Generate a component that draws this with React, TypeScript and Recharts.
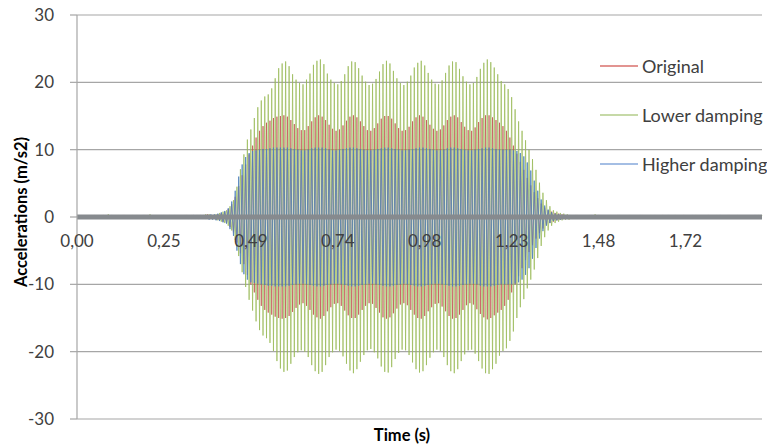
import React from "react";
import {
  LineChart,
  Line,
  XAxis,
  YAxis,
  CartesianGrid,
  ReferenceLine,
} from "recharts";

// sample-by-sample accelerations (m/s2), one sample every ~0.0049 s
const ORIGINAL = [
  // 0-77 quiet
  -0.1, 0.1, -0.1, 0.2, 0.0, 0.1, -0.1, 0.2, -0.1, 0.1,
  -0.2, 0.2, -0.1, 0.1, 0.0, 0.3, -0.1, 0.1, -0.1, 0.2,
  -0.1, 0.1, -0.2, 0.2, -0.1, 0.1, 0.0, 0.3, -0.1, 0.1,
  -0.1, 0.2, -0.1, 0.1, -0.2, 0.2, 0.0, 0.1, -0.1, 0.3,
  -0.1, 0.1, -0.1, 0.2, -0.1, 0.1, -0.2, 0.2, 0.0, 0.1,
  -0.1, 0.2, -0.1, 0.3, -0.1, 0.1, -0.2, 0.2, -0.1, 0.2,
  -0.2, 0.2, -0.2, 0.3, -0.2, 0.2, -0.3, 0.3, -0.2, 0.3,
  -0.3, 0.3, -0.2, 0.3, -0.3, 0.4, -0.3, 0.3,
  // 78-285 excitation
  -0.3, 0.3, -0.4, 0.4, -0.5, 0.6, -0.7, 0.8, -0.9, 1.2,
  -1.5, 1.9, -2.3, 3.0, -3.8, 4.6, -5.4, 6.2, -7.0, 7.8,
  -8.6, 9.3, -10.0, 10.6, -11.2, 11.8, -12.3, 12.8, -13.2, 13.5,
  -13.8, 14.0, -14.2, 14.3, -14.5, 14.7, -14.8, 14.9, -15.0, 15.0,
  -15.1, 15.1, -15.0, 14.9, -14.7, 14.4, -14.1, 13.8, -13.5, 13.2,
  -13.0, 12.9, -12.8, 12.9, -13.2, 13.5, -13.8, 14.2, -14.5, 14.8,
  -14.9, 15.1, -15.1, 14.9, -14.7, 14.4, -14.0, 13.7, -13.4, 13.1,
  -12.9, 12.8, -12.8, 13.0, -13.2, 13.6, -13.9, 14.3, -14.6, 14.9,
  -15.0, 15.1, -15.0, 14.8, -14.5, 14.2, -13.8, 13.5, -13.2, 12.9,
  -12.8, 12.8, -12.9, 13.2, -13.5, 13.9, -14.2, 14.6, -14.9, 15.0,
  -15.1, 15.0, -14.9, 14.6, -14.3, 13.9, -13.6, 13.2, -13.0, 12.8,
  -12.8, 12.9, -13.1, 13.4, -13.8, 14.2, -14.5, 14.8, -15.0, 15.1,
  -15.1, 14.9, -14.7, 14.4, -14.0, 13.7, -13.4, 13.1, -12.9, 12.8,
  -12.8, 13.0, -13.3, 13.6, -14.0, 14.4, -14.7, 14.9, -15.1, 15.1,
  -15.0, 14.8, -14.5, 14.1, -13.8, 13.4, -13.1, 12.9, -12.8, 12.8,
  -13.0, 13.3, -13.7, 14.1, -14.4, 14.7, -14.9, 15.1, -15.2, 15.1,
  -15.0, 14.8, -14.6, 14.4, -14.2, 14.0, -13.8, 13.5, -13.2, 12.8,
  -12.3, 11.8, -11.2, 10.6, -10.0, 9.4, -8.8, 8.2, -7.6, 7.0,
  -6.4, 5.8, -5.2, 4.7, -4.2, 3.7, -3.2, 2.8, -2.4, 2.0,
  -1.7, 1.4, -1.2, 1.0, -0.9, 0.8, -0.7, 0.6, -0.5, 0.5,
  -0.4, 0.4, -0.3, 0.3, -0.3, 0.3, -0.2, 0.2,
  // 286-394 quiet
  -0.2, 0.3, -0.1, 0.2, -0.2, 0.1, -0.1, 0.2, -0.1, 0.3,
  -0.2, 0.1, -0.1, 0.2, 0.0, 0.1, -0.2, 0.2, -0.1, 0.1,
  -0.1, 0.2, 0.0, 0.1, -0.1, 0.3, -0.1, 0.1, -0.2, 0.1,
  0.0, 0.2, -0.1, 0.1, -0.1, 0.2, -0.2, 0.1, 0.0, 0.3,
  -0.1, 0.1, -0.1, 0.2, -0.1, 0.1, -0.2, 0.2, 0.0, 0.1,
  -0.1, 0.3, -0.1, 0.1, -0.1, 0.2, 0.0, 0.1, -0.2, 0.2,
  -0.1, 0.1, -0.1, 0.3, -0.1, 0.1, -0.1, 0.2, -0.2, 0.1,
  0.0, 0.2, -0.1, 0.1, -0.1, 0.2, -0.1, 0.3, -0.1, 0.1,
  -0.2, 0.2, 0.0, 0.1, -0.1, 0.2, -0.1, 0.1, -0.1, 0.3,
  -0.1, 0.1, -0.2, 0.2, -0.1, 0.1, 0.0, 0.2, -0.1, 0.1,
  -0.1, 0.2, -0.1, 0.1, -0.2, 0.2, 0.0, 0.1, -0.1,
];

const LOWER_DAMPING = [
  0.1, -0.1, 0.2, -0.1, 0.1, 0.0, 0.2, -0.2, 0.1, -0.1,
  0.3, -0.1, 0.1, -0.2, 0.2, 0.0, 0.1, -0.1, 0.4, -0.2,
  0.2, -0.1, 0.1, -0.1, 0.3, -0.2, 0.1, 0.0, 0.2, -0.1,
  0.1, -0.2, 0.3, -0.1, 0.1, -0.1, 0.2, -0.2, 0.1, 0.0,
  0.2, -0.1, 0.4, -0.2, 0.1, -0.1, 0.2, 0.0, 0.1, -0.2,
  0.3, -0.1, 0.1, -0.1, 0.2, -0.2, 0.3, -0.1, 0.1, -0.1,
  0.2, -0.2, 0.3, -0.2, 0.2, -0.2, 0.3, -0.3, 0.2, -0.2,
  0.3, -0.2, 0.3, -0.3, 0.4, -0.3, 0.4, -0.3,
  0.3, -0.3, 0.4, -0.5, 0.6, -0.7, 0.8, -0.9, 1.0, -1.3,
  1.6, -2.0, 2.5, -3.4, 4.5, -5.8, 7.1, -8.2, 9.3, -10.4,
  11.5, -12.3, 13.0, -13.9, 14.7, -15.5, 16.3, -16.8, 17.3, -17.6,
  17.9, -18.0, 18.2, -18.7, 19.1, -19.9, 20.6, -21.4, 22.1, -22.5,
  22.8, -23.0, 23.1, -22.8, 22.4, -21.8, 21.2, -20.8, 20.4, -20.1,
  19.9, -19.8, 19.7, -20.0, 20.4, -20.8, 21.3, -22.0, 22.6, -22.9,
  23.2, -23.3, 23.4, -23.0, 22.7, -22.0, 21.3, -20.8, 20.4, -20.1,
  19.9, -19.7, 19.7, -19.9, 20.2, -20.7, 21.2, -21.8, 22.4, -22.8,
  23.1, -23.2, 23.0, -22.6, 22.1, -21.5, 21.0, -20.5, 20.1, -19.8,
  19.6, -19.6, 19.8, -20.1, 20.5, -21.0, 21.6, -22.2, 22.7, -23.0,
  23.2, -23.1, 22.8, -22.3, 21.7, -21.1, 20.6, -20.2, 19.9, -19.7,
  19.6, -19.8, 20.1, -20.5, 21.0, -21.6, 22.2, -22.6, 22.9, -23.1,
  23.2, -22.9, 22.5, -22.0, 21.4, -20.9, 20.4, -20.1, 19.8, -19.7,
  19.7, -19.9, 20.3, -20.8, 21.4, -22.0, 22.5, -22.9, 23.1, -23.2,
  23.0, -22.6, 22.0, -21.4, 20.9, -20.4, 20.1, -19.8, 19.7, -19.7,
  19.9, -20.3, 20.8, -21.4, 22.0, -22.5, 22.9, -23.2, 23.4, -23.3,
  23.0, -22.6, 22.2, -21.8, 21.2, -20.6, 20.2, -19.9, 19.7, -19.5,
  19.0, -18.4, 17.8, -17.0, 16.0, -15.0, 14.2, -13.4, 12.8, -12.2,
  11.4, -10.6, 10.0, -9.3, 8.6, -7.8, 7.0, -6.1, 5.1, -4.3,
  3.6, -3.0, 2.5, -2.0, 1.6, -1.3, 1.0, -0.9, 0.8, -0.7,
  0.6, -0.5, 0.5, -0.4, 0.4, -0.4, 0.3, -0.3,
  0.2, -0.2, 0.3, -0.1, 0.2, -0.2, 0.1, -0.1, 0.3, -0.2,
  0.2, -0.1, 0.4, -0.2, 0.3, -0.1, 0.2, -0.2, 0.1, -0.1,
  0.2, 0.0, 0.1, -0.1, 0.2, -0.1, 0.1, 0.0, 0.2, -0.2,
  0.1, -0.1, 0.3, -0.1, 0.1, 0.0, 0.2, -0.1, 0.1, -0.2,
  0.2, -0.1, 0.1, 0.0, 0.3, -0.2, 0.1, -0.1, 0.2, -0.1,
  0.1, -0.2, 0.2, -0.1, 0.1, 0.0, 0.2, -0.1, 0.3, -0.1,
  0.1, -0.1, 0.2, -0.2, 0.1, 0.0, 0.2, -0.1, 0.1, -0.1,
  0.3, -0.2, 0.1, -0.1, 0.2, -0.1, 0.1, 0.0, 0.2, -0.2,
  0.1, -0.1, 0.3, -0.1, 0.2, -0.1, 0.1, -0.2, 0.2, 0.0,
  0.1, -0.1, 0.2, -0.1, 0.3, -0.2, 0.1, -0.1, 0.2, -0.1,
  0.1, 0.0, 0.2, -0.1, 0.1, -0.1, 0.3, -0.1, 0.2,
];

const HIGHER_DAMPING = [
  0.1, -0.2, 0.1, -0.1, 0.2, -0.1, 0.0, -0.1, 0.2, -0.1,
  0.1, -0.1, 0.2, -0.2, 0.1, 0.0, 0.2, -0.1, 0.1, -0.1,
  0.3, -0.1, 0.1, -0.2, 0.1, 0.0, 0.2, -0.1, 0.1, -0.2,
  0.2, -0.1, 0.1, 0.0, 0.2, -0.2, 0.1, -0.1, 0.3, -0.1,
  0.1, -0.1, 0.2, 0.0, 0.1, -0.2, 0.1, -0.1, 0.2, -0.1,
  0.1, -0.2, 0.2, -0.1, 0.1, 0.0, 0.2, -0.2, 0.2, -0.1,
  -0.2, 0.2, -0.2, 0.2, -0.3, 0.2, -0.2, 0.3, -0.3, 0.2,
  -0.3, 0.3, -0.3, 0.3, -0.3, 0.3, -0.4, 0.4,
  -0.4, 0.4, -0.5, 0.5, -0.6, 0.7, -0.8, 0.9, -1.0, 1.3,
  -1.8, 2.3, -2.8, 3.9, -5.0, 6.0, -7.0, 7.8, -8.5, 8.9,
  -9.3, 9.5, -9.7, 9.8, -9.8, 9.9, -9.9, 10.0, -10.0, 10.1,
  -10.1, 10.1, -10.2, 10.2, -10.2, 10.3, -10.3, 10.3, -10.3, 10.3,
  -10.3, 10.3, -10.3, 10.3, -10.2, 10.2, -10.1, 10.1, -10.0, 10.0,
  -9.9, 9.9, -9.9, 9.9, -10.0, 10.0, -10.1, 10.2, -10.2, 10.3,
  -10.3, 10.3, -10.3, 10.3, -10.2, 10.2, -10.1, 10.0, -10.0, 9.9,
  -9.9, 9.9, -9.9, 10.0, -10.0, 10.1, -10.1, 10.2, -10.2, 10.3,
  -10.3, 10.3, -10.3, 10.2, -10.2, 10.1, -10.1, 10.0, -10.0, 9.9,
  -9.9, 9.9, -9.9, 10.0, -10.0, 10.1, -10.1, 10.2, -10.2, 10.3,
  -10.3, 10.3, -10.3, 10.2, -10.2, 10.1, -10.1, 10.0, -10.0, 9.9,
  -9.9, 9.9, -10.0, 10.0, -10.1, 10.1, -10.2, 10.2, -10.3, 10.3,
  -10.3, 10.3, -10.2, 10.2, -10.1, 10.1, -10.0, 10.0, -9.9, 9.9,
  -9.9, 9.9, -10.0, 10.0, -10.1, 10.2, -10.2, 10.3, -10.3, 10.3,
  -10.3, 10.2, -10.2, 10.1, -10.1, 10.0, -10.0, 9.9, -9.9, 9.9,
  -9.9, 10.0, -10.0, 10.1, -10.2, 10.2, -10.3, 10.3, -10.3, 10.3,
  -10.3, 10.2, -10.2, 10.1, -10.1, 10.0, -10.0, 10.0, -10.0, 10.0,
  -10.0, 10.0, -10.0, 9.9, -9.9, 9.8, -9.7, 9.5, -9.3, 9.0,
  -8.6, 8.1, -7.6, 6.9, -6.2, 5.4, -4.6, 3.9, -3.2, 2.6,
  -2.1, 1.7, -1.3, 1.1, -0.9, 0.7, -0.6, 0.5, -0.5, 0.4,
  -0.4, 0.3, -0.3, 0.3, -0.2, 0.2, -0.2, 0.2,
  0.1, -0.1, 0.2, -0.1, 0.1, -0.2, 0.2, 0.0, 0.1, -0.1,
  0.3, -0.1, 0.1, -0.1, 0.2, -0.2, 0.1, 0.0, 0.2, -0.1,
  0.1, -0.1, 0.2, -0.1, 0.1, 0.0, 0.3, -0.1, 0.1, -0.2,
  0.2, -0.1, 0.1, 0.0, 0.2, -0.1, 0.1, -0.1, 0.3, -0.1,
  0.1, -0.2, 0.2, -0.1, 0.1, 0.0, 0.2, -0.1, 0.1, -0.1,
  0.2, -0.1, 0.1, -0.2, 0.3, -0.1, 0.1, 0.0, 0.1, -0.1,
  0.2, -0.1, 0.1, 0.0, 0.2, -0.2, 0.1, -0.1, 0.3, -0.1,
  0.1, -0.1, 0.2, 0.0, 0.1, -0.1, 0.2, -0.2, 0.1, -0.1,
  0.2, -0.1, 0.1, -0.1, 0.3, -0.1, 0.1, 0.0, 0.2, -0.1,
  0.1, -0.2, 0.2, -0.1, 0.1, -0.1, 0.2, 0.0, 0.1, -0.1,
  0.2, -0.1, 0.1, -0.1, 0.3, -0.1, 0.1, 0.0, 0.2,
];

// category labels shown every 50 samples
const TIME_LABELS = ["0,00", "0,25", "0,49", "0,74", "0,98", "1,23", "1,48", "1,72"];
const LABEL_STEP = 50;
const Y_TICKS = [-30, -20, -10, 0, 10, 20, 30];

const SERIES = [
  { key: "original", name: "Original", color: "#C0504D", legend: "#d9706d", opacity: 0.7 },
  { key: "lower", name: "Lower damping", color: "#9BBB59", legend: "#b3cc8a", opacity: 0.75 },
  { key: "higher", name: "Higher damping", color: "#4F81BD", legend: "#86a8db", opacity: 0.8 },
];

const data = LOWER_DAMPING.map((_, i) => ({
  i,
  original: ORIGINAL[i],
  lower: LOWER_DAMPING[i],
  higher: HIGHER_DAMPING[i],
}));

const FONT = "Lato, 'Open Sans', sans-serif";
const W = 767;
const H = 444;
const PLOT_TOP = 15;
const PLOT_BOTTOM = 419;
const ZERO_Y = (PLOT_TOP + PLOT_BOTTOM) / 2;

const XTick = (props: any) => {
  const { x, payload } = props;
  return (
    <text x={x} y={ZERO_Y + 30} textAnchor="middle" fontSize={17} fill="#404040" fontFamily={FONT}>
      {TIME_LABELS[Math.round(payload.value / LABEL_STEP)]}
    </text>
  );
};

const XTitle = () => (
  <text x={402} y={441} textAnchor="middle" fontSize={16.5} fontWeight="bold" fill="#000" fontFamily={FONT}>
    Time (s)
  </text>
);

const YTitle = () => (
  <text
    x={21}
    y={212}
    transform="rotate(-90, 21, 212)"
    textAnchor="middle"
    dominantBaseline="central"
    fontSize={16.5}
    fontWeight="bold"
    fill="#000"
    fontFamily={FONT}
  >
    Accelerations (m/s2)
  </text>
);

const LegendBox = () => (
  <div
    style={{
      position: "absolute",
      left: 600,
      top: 41,
      fontFamily: FONT,
      fontSize: 18,
      color: "#404040",
    }}
  >
    {SERIES.map((s) => (
      <div key={s.key} style={{ display: "flex", alignItems: "center", height: 49 }}>
        <svg width={38} height={4} style={{ marginRight: 4, display: "block" }}>
          <line x1={0} x2={38} y1={2} y2={2} stroke={s.legend} strokeWidth={1.3} />
        </svg>
        <span style={{ whiteSpace: "nowrap" }}>{s.name}</span>
      </div>
    ))}
  </div>
);

export default function App() {
  return (
    <div style={{ position: "absolute", left: 0, top: 0, width: W, height: H, background: "#fff" }}>
      <LineChart
        width={W}
        height={H}
        data={data}
        margin={{ top: PLOT_TOP, right: 5, bottom: 0, left: 0 }}
      >
        <CartesianGrid vertical={false} stroke="#a6a6a6" strokeWidth={1.2} />
        <XAxis
          type="number"
          dataKey="i"
          domain={[0, data.length - 1]}
          ticks={TIME_LABELS.map((_, k) => k * LABEL_STEP)}
          interval={0}
          axisLine={false}
          tickLine={false}
          height={H - PLOT_BOTTOM}
          tick={<XTick />}
          label={<XTitle />}
        />
        <YAxis
          domain={[-30, 30]}
          ticks={Y_TICKS}
          width={77}
          axisLine={{ stroke: "#a6a6a6", strokeWidth: 1.2 }}
          tickLine={{ stroke: "#a6a6a6", strokeWidth: 1.2 }}
          tickSize={7}
          tickMargin={16}
          tick={{ fontSize: 17, fill: "#404040", fontFamily: FONT }}
          label={<YTitle />}
        />
        {SERIES.map((s) => (
          <Line
            key={s.key}
            dataKey={s.key}
            name={s.name}
            type="linear"
            stroke={s.color}
            strokeWidth={1}
            strokeOpacity={s.opacity}
            dot={false}
            activeDot={false}
            isAnimationActive={false}
          />
        ))}
        <ReferenceLine y={0} stroke="#868a8e" strokeWidth={5} />
      </LineChart>
      <LegendBox />
    </div>
  );
}
